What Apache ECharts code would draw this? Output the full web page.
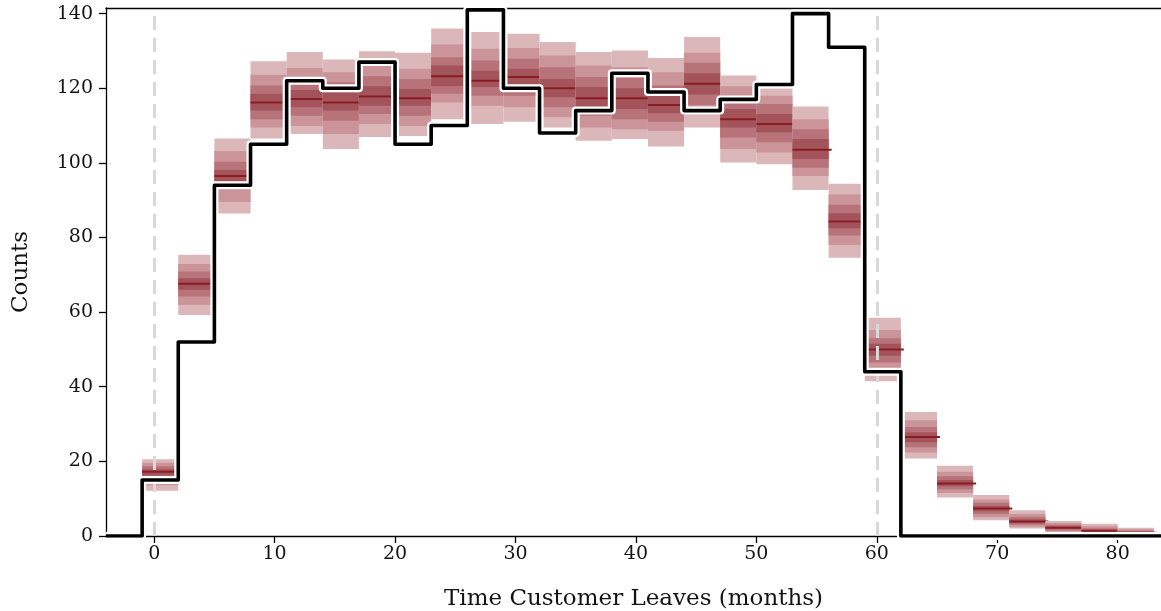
<!DOCTYPE html>
<html>
<head>
<meta charset="utf-8">
<script src="https://cdn.jsdelivr.net/npm/echarts@6/dist/echarts.min.js"></script>
<style>
  html, body { margin: 0; padding: 0; background: #ffffff; }
  #chart { width: 1161px; height: 611px; }
</style>
</head>
<body>
<div id="chart"></div>
<script>
// Histogram bins (left edges, months) and bin width
const binStart = [-1, 2, 5, 8, 11, 14, 17, 20, 23, 26, 29, 32, 35, 38, 41, 44, 47, 50, 53, 56, 59, 62, 65, 68, 71, 74, 77, 80];
const binWidth = 3;

// Observed counts per bin
const observed = [15, 52, 94, 105, 122, 120, 127, 105, 110, 141, 120, 108, 114, 124, 119, 114, 117, 121, 140, 131, 44, 0, 0, 0, 0, 0, 0, 0];

// Posterior predictive counts per bin: quantile levels from outer to inner
const p05 = [12.1, 59.2, 86.4, 106.5, 107.7, 103.7, 106.9, 107.2, 111.7, 110.4, 111.0, 109.5, 105.9, 106.4, 104.4, 109.5, 100.1, 99.6, 92.7, 74.6, 41.5, 20.8, 10.3, 4.2, 2.0, 0.9, 0.5, 0.3];
const p15 = [13.6, 61.9, 89.5, 109.5, 109.9, 107.7, 110.4, 109.9, 116.2, 115.3, 114.9, 112.2, 109.5, 109.0, 108.6, 113.0, 103.7, 102.8, 96.5, 78.0, 44.5, 22.4, 11.5, 5.0, 2.5, 1.2, 0.8, 0.5];
const p25 = [15.0, 64.2, 93.0, 111.7, 112.6, 111.3, 113.1, 112.6, 118.5, 118.0, 118.0, 114.9, 112.6, 111.7, 111.0, 115.5, 106.8, 105.5, 98.7, 80.5, 46.5, 23.8, 12.5, 5.9, 3.0, 1.5, 1.0, 0.7];
const p35 = [16.2, 66.0, 95.0, 114.0, 114.9, 114.0, 115.3, 115.3, 120.5, 120.3, 120.3, 117.6, 114.9, 114.4, 113.3, 118.3, 109.5, 108.2, 101.0, 82.5, 48.3, 25.1, 13.3, 6.6, 3.4, 1.9, 1.2, 0.8];
const p50 = [17.2, 67.6, 96.5, 116.2, 117.1, 116.2, 117.8, 117.3, 123.2, 122.0, 123.0, 120.0, 117.3, 117.3, 115.5, 121.2, 111.7, 110.4, 103.5, 84.3, 50.0, 26.5, 14.1, 7.4, 3.9, 2.2, 1.4, 0.9];
const p65 = [17.9, 69.1, 98.1, 118.5, 119.5, 118.9, 120.5, 119.8, 126.1, 124.7, 125.2, 122.5, 120.3, 120.0, 118.0, 124.0, 114.4, 113.1, 106.4, 86.5, 51.5, 27.8, 15.0, 8.1, 4.5, 2.6, 1.7, 1.1];
const p75 = [18.7, 70.9, 100.3, 120.7, 122.0, 121.6, 123.2, 122.5, 128.3, 127.4, 127.9, 125.6, 123.0, 122.8, 120.7, 126.8, 117.5, 115.8, 109.0, 88.8, 53.0, 29.2, 16.0, 8.9, 5.1, 3.0, 2.1, 1.4];
const p85 = [19.6, 72.9, 103.2, 123.6, 125.4, 124.3, 126.0, 125.2, 131.7, 130.6, 130.8, 128.8, 126.1, 125.6, 124.3, 129.5, 120.5, 118.0, 111.7, 91.5, 55.2, 31.0, 17.2, 9.8, 5.9, 3.5, 2.6, 1.8];
const p95 = [20.6, 75.4, 106.5, 127.2, 129.7, 127.7, 129.9, 129.5, 136.0, 135.1, 134.6, 132.4, 129.7, 130.1, 128.1, 133.7, 123.4, 120.0, 115.1, 94.4, 58.5, 33.2, 18.8, 11.0, 6.9, 4.0, 3.3, 2.2];

// Axis ticks and reference lines
const xTicks = [0, 10, 20, 30, 40, 50, 60, 70, 80];
const yTicks = [0, 20, 40, 60, 80, 100, 120, 140];
const refLines = [0, 60];

const X_MIN = -4, X_MAX = 83.6, Y_MIN = 0, Y_MAX = 141.5;

const FONT = 'DejaVu Serif';
const TEXT = '#141414';
const bandColors = ['#dcb7ba', '#ca9499', '#b77379', '#a3535a'];
const medianColor = '#8b1c23';

const boxData = binStart.map((s, i) => [s, s + binWidth,
  p05[i], p15[i], p25[i], p35[i], p50[i], p65[i], p75[i], p85[i], p95[i]]);

// Observed histogram as a step outline across the whole axis
const stepData = [[X_MIN, 0]]
  .concat(binStart.map((s, i) => [s, observed[i]]))
  .concat([[X_MAX, 0]]);

function renderBox(params, api) {
  const x0 = api.value(0), x1 = api.value(1);
  const children = [];
  for (let k = 0; k < 4; k++) {
    const lo = api.value(2 + k), hi = api.value(10 - k);
    const a = api.coord([x0, hi]);
    const b = api.coord([x1, lo]);
    children.push({
      type: 'rect',
      shape: { x: a[0], y: a[1], width: b[0] - a[0], height: b[1] - a[1] },
      style: { fill: bandColors[k] }
    });
  }
  const m0 = api.coord([x0, api.value(6)]);
  const m1 = api.coord([x1, api.value(6)]);
  children.push({
    type: 'line',
    shape: { x1: m0[0], y1: m0[1], x2: m1[0] + 3, y2: m1[1] },
    style: { stroke: medianColor, lineWidth: 2 }
  });
  return { type: 'group', children };
}

const labelStyle = { fontFamily: FONT, fontSize: 19, color: TEXT };
const nameStyle = { fontFamily: FONT, fontSize: 23, color: TEXT };

const option = {
  animation: false,
  backgroundColor: '#ffffff',
  grid: { left: 106, right: 0, top: 8, bottom: 75, outerBoundsMode: 'none', containLabel: false },
  xAxis: [
    {
      type: 'value', min: X_MIN, max: X_MAX,
      axisLine: { show: true, onZero: false, lineStyle: { color: '#000', width: 1.3 } },
      axisTick: { show: true, length: 7, customValues: xTicks, lineStyle: { color: '#000', width: 1.3 } },
      axisLabel: Object.assign({ customValues: xTicks, margin: 9 }, labelStyle),
      splitLine: { show: false },
      name: 'Time Customer Leaves (months)',
      nameLocation: 'middle', nameGap: 52,
      nameTextStyle: nameStyle
    },
    {
      type: 'value', position: 'top', min: X_MIN, max: X_MAX,
      axisLine: { show: true, onZero: false, lineStyle: { color: '#000', width: 1.3 } },
      axisTick: { show: false }, axisLabel: { show: false }, splitLine: { show: false }
    }
  ],
  yAxis: {
    type: 'value', min: Y_MIN, max: Y_MAX,
    axisLine: { show: true, onZero: false, lineStyle: { color: '#000', width: 1.3 } },
    axisTick: { show: true, length: 7, customValues: yTicks, lineStyle: { color: '#000', width: 1.3 } },
    axisLabel: Object.assign({ customValues: yTicks, margin: 13 }, labelStyle),
    splitLine: { show: false },
    name: 'Counts', nameLocation: 'middle', nameGap: 73, nameRotate: 90,
    nameTextStyle: nameStyle
  },
  series: [
    {
      type: 'custom', name: 'predicted', z: 2,
      renderItem: renderBox,
      encode: { x: [0, 1], y: [2, 10] },
      data: boxData
    },
    {
      type: 'line', name: 'reference', z: 3, data: [],
      markLine: {
        silent: true, symbol: 'none', z: 3,
        label: { show: false },
        lineStyle: { color: '#d9d9d9', width: 3, type: [14, 8] },
        data: refLines.map(v => ({ xAxis: v }))
      }
    },
    {
      type: 'line', name: 'halo', z: 4, step: 'end', symbol: 'none',
      lineStyle: { color: '#ffffff', width: 8, join: 'round' },
      data: stepData
    },
    {
      type: 'line', name: 'observed', z: 5, step: 'end', symbol: 'none',
      lineStyle: { color: '#000000', width: 3.6, join: 'round' },
      data: stepData
    }
  ]
};

const chart = echarts.init(document.getElementById('chart'), null, { renderer: 'canvas' });
chart.setOption(option);
</script>
</body>
</html>
